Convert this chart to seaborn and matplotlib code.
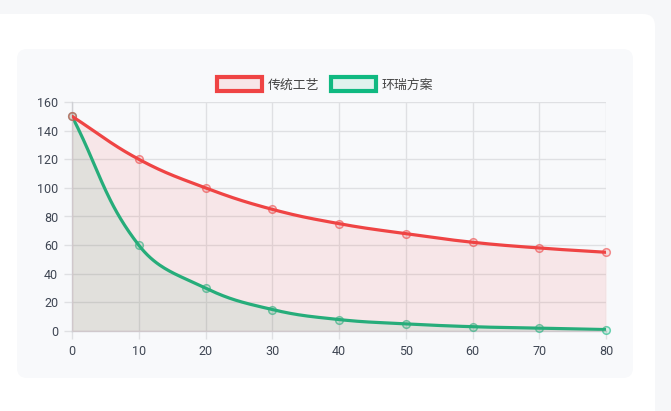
import numpy as np
import pandas as pd
import matplotlib
matplotlib.use("Agg")
import matplotlib.pyplot as plt
from matplotlib.patches import FancyBboxPatch, Patch
from matplotlib.transforms import IdentityTransform
import seaborn as sns

# ---- data ----
x_vals = [0, 10, 20, 30, 40, 50, 60, 70, 80]
traditional = [150, 120, 100, 85, 75, 68, 62, 58, 55]
huanrui = [150, 60, 30, 15, 8, 5, 3, 2, 1]
series_names = ["传统工艺", "环瑞方案"]
y_ticks = [0, 20, 40, 60, 80, 100, 120, 140, 160]

RED = (239/255, 68/255, 68/255)
GREEN = (16/255, 185/255, 129/255)
PANEL = "#f8f9fb"
GRID = "#dfe0e3"
TICK_COLOR = "#3f4653"

sns.set_theme(style="white")
plt.rcParams['font.family'] = ['Noto Sans CJK SC', 'DejaVu Sans']

W, H = 671, 411
fig = plt.figure(figsize=(W/100, H/100), dpi=100)
fig.patch.set_facecolor("#f6f7f9")

def px_box(x, y_top, w, h, r, color, zo):
    p = FancyBboxPatch((x, H - y_top - h), w, h,
                       boxstyle=f"round,pad=0,rounding_size={r}",
                       transform=IdentityTransform(), facecolor=color,
                       edgecolor="none", zorder=zo)
    fig.patches.append(p)

px_box(-30, 14, 685, 430, 12, "white", -20)
px_box(17, 49, 616, 329, 10, PANEL, -19)

L, R, T, B = 72, 606, 102, 331
ax = fig.add_axes([L/W, 1 - B/H, (R-L)/W, (B-T)/H])
ax.set_facecolor("none")
ax.set_zorder(5)

xmin, xmax, ymin, ymax = 0, 80, 0, 160
sx = (R-L)/(xmax-xmin)
sy = (B-T)/(ymax-ymin)

def smooth(xs, ys, t=0.4, n=40):
    P = np.column_stack([np.array(xs, float)*sx, np.array(ys, float)*sy])
    m = len(P)
    prev_cp, next_cp = [], []
    for i in range(m):
        pv = P[max(i-1, 0)]; cu = P[i]; nx = P[min(i+1, m-1)]
        d01 = np.hypot(*(cu-pv)); d12 = np.hypot(*(nx-cu))
        tot = d01 + d12
        s01 = d01/tot if tot else 0; s12 = d12/tot if tot else 0
        prev_cp.append(cu - t*s01*(nx-pv))
        next_cp.append(cu + t*s12*(nx-pv))
    out = [P[0]]
    u = np.linspace(0, 1, n)[1:]
    for i in range(m-1):
        p0, p1, p2, p3 = P[i], next_cp[i], prev_cp[i+1], P[i+1]
        seg = ((1-u)**3)[:, None]*p0 + (3*(1-u)**2*u)[:, None]*p1 + \
              (3*(1-u)*u**2)[:, None]*p2 + (u**3)[:, None]*p3
        out.extend(seg)
    out = np.array(out)
    return out[:, 0]/sx, np.clip(out[:, 1]/sy, ymin, ymax)

datasets = [(series_names[1], huanrui, GREEN), (series_names[0], traditional, RED)]
z = 1
for name, vals, col in datasets:
    cx, cy = smooth(x_vals, vals)
    ax.fill_between(cx, 0, cy, color=col, alpha=0.1, linewidth=0, zorder=z)
    df = pd.DataFrame({"x": cx, "y": cy})
    sns.lineplot(data=df, x="x", y="y", sort=False, estimator=None, ax=ax,
                 color=col, linewidth=2.3, zorder=z+1)
    pts = pd.DataFrame({"x": x_vals, "y": vals})
    fc = tuple(list(col) + [0.15])
    ec = tuple(list(col) + [0.6])
    sns.scatterplot(data=pts, x="x", y="y", ax=ax, s=30, marker="o",
                    facecolor=fc, edgecolor=ec, linewidth=1.1, zorder=z+2,
                    clip_on=False)
    z += 3

ax.set_xlim(xmin, xmax)
ax.set_ylim(ymin, ymax)
ax.set_xticks(x_vals)
ax.set_yticks(y_ticks)
ax.set_xlabel("")
ax.set_ylabel("")
ax.grid(True, color=GRID, linewidth=1)
ax.set_axisbelow(True)
for s in ["top", "right"]:
    ax.spines[s].set_visible(False)
for s in ["left", "bottom"]:
    ax.spines[s].set_color("#cfd0d4")
    ax.spines[s].set_linewidth(1)
ax.tick_params(axis="both", length=6, width=1, color=GRID, labelcolor=TICK_COLOR,
               labelsize=9, pad=4, left=True, bottom=True)
for lab in ax.get_xticklabels() + ax.get_yticklabels():
    lab.set_fontfamily(["Roboto", "DejaVu Sans"])

handles = [Patch(facecolor=tuple(list(RED)+[0.1]), edgecolor=RED, linewidth=3,
                 label=series_names[0]),
           Patch(facecolor=tuple(list(GREEN)+[0.1]), edgecolor=GREEN, linewidth=3,
                 label=series_names[1])]
leg = fig.legend(handles=handles, loc="center", bbox_to_anchor=(325/W, 1 - 84.5/H),
                 ncol=2, frameon=False, fontsize=9.3, handlelength=3.5,
                 handleheight=1.25, handletextpad=0.45, columnspacing=0.9,
                 labelcolor="#444444")

fig.savefig("out.png", dpi=100)
